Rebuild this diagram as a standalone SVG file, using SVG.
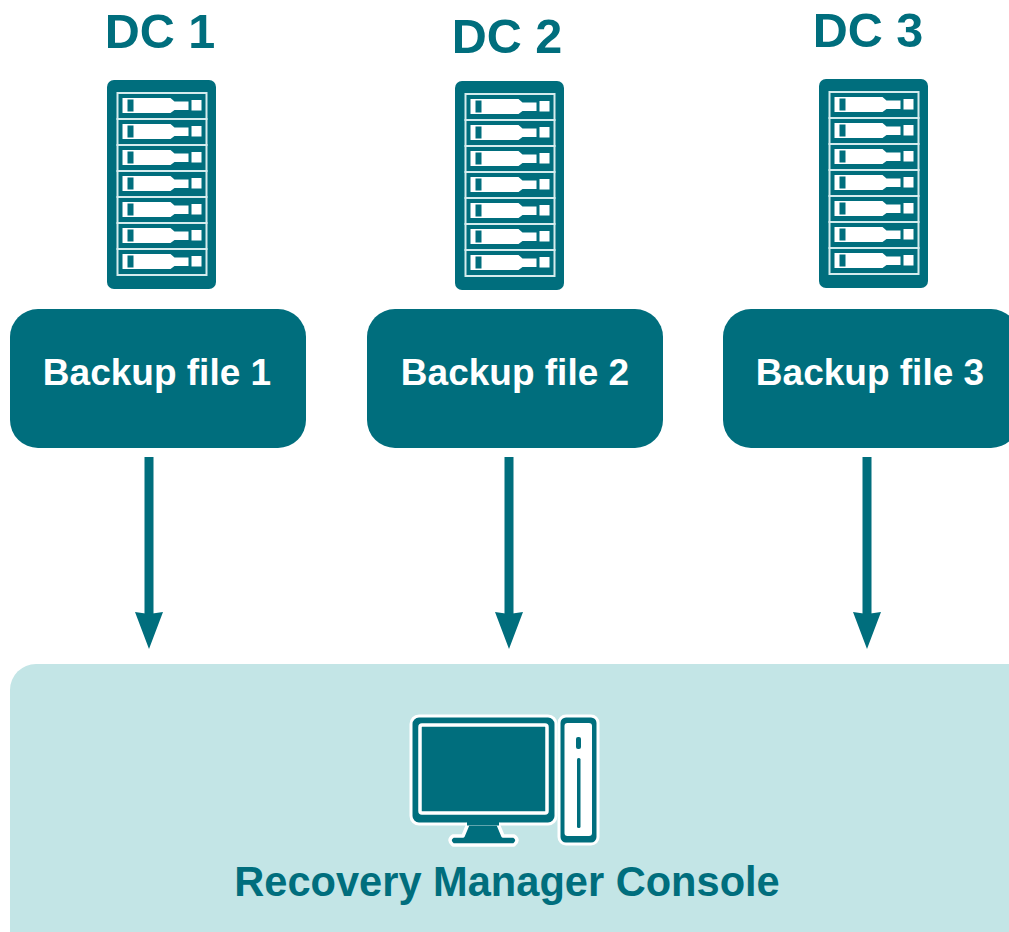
<svg xmlns="http://www.w3.org/2000/svg" width="1009" height="932" viewBox="0 0 1009 932">
<style>
.t{fill:#006e7d}.w{fill:#fff}
text{font-family:"Liberation Sans",Arial,sans-serif;font-weight:700}
.dc{font-size:48.500px;fill:#006e7d;text-anchor:middle}
.b{font-size:37px;fill:#fff;text-anchor:middle}
.box{fill:#006e7d}
.c{stroke:#006e7d;stroke-width:9;fill:none;marker-end:url(#a)}
</style>
<defs>
<marker id="a" markerUnits="userSpaceOnUse" markerWidth="40" markerHeight="30" refX="8" refY="15" orient="auto" viewBox="0 0 40 30"><path d="M0 1L2 15L0 29L37 15Z" fill="#006e7d"/></marker>
<g id="row">
<rect x="0" y="0" width="89" height="26" fill="none" stroke="#d5ecee" stroke-width="2"/>
<path class="w" d="M5 5H53L57 8.500H71V17H57L53 20H5Z"/>
<rect class="t" x="10" y="6.500" width="6" height="12"/>
<rect class="w" x="74" y="7" width="10" height="10.500"/>
</g>
<g id="rack">
<rect class="t" x="0" y="0" width="109" height="209" rx="7"/>
<use href="#row" x="10.500" y="13"/><use href="#row" x="10.500" y="39"/><use href="#row" x="10.500" y="65"/><use href="#row" x="10.500" y="91"/><use href="#row" x="10.500" y="117"/><use href="#row" x="10.500" y="143"/><use href="#row" x="10.500" y="169"/>
</g>
</defs>
<g id="console"><rect x="10" y="664" width="1040" height="300" rx="26" fill="#c3e5e6"/>
<g id="pc">
<rect x="411" y="716" width="145" height="108" rx="8" class="t" stroke="#fff" stroke-width="3"/>
<rect x="420" y="725" width="127" height="88" rx="2" class="t" stroke="#fff" stroke-width="3.500"/>
<path class="t" stroke="#fff" stroke-width="3.500" stroke-linejoin="round" d="M468 824H498L503 836H514Q520 840 514 845H453Q447 840 453 836H463Z"/>
<path class="t" d="M467 821H499V825.500H467Z"/>
<rect x="559" y="716" width="39" height="128" rx="7" class="t" stroke="#fff" stroke-width="3"/>
<rect x="564.500" y="723" width="27.500" height="113" rx="3" fill="#fff"/>
<rect x="576" y="737" width="5" height="12" rx="2" class="t"/>
<rect x="577" y="758" width="3.500" height="70" rx="1.500" class="t"/>
</g>
<text x="507" y="896" font-size="41.600" fill="#006e7d" text-anchor="middle">Recovery Manager Console</text></g>
<g id="connectors">
<line class="c" x1="149" y1="457" x2="149" y2="620"/>
<line class="c" x1="509" y1="457" x2="509" y2="620"/>
<line class="c" x1="867" y1="457" x2="867" y2="620"/>
</g>
<g id="dc1"><text class="dc" x="160" y="48">DC 1</text><use href="#rack" x="107" y="80"/></g>
<g id="dc2"><text class="dc" x="507" y="53">DC 2</text><use href="#rack" x="455" y="81"/></g>
<g id="dc3"><text class="dc" x="868" y="47">DC 3</text><use href="#rack" x="819" y="79"/></g>
<g id="backup1"><rect class="box" x="10" y="309" width="296" height="139" rx="28"/><text class="b" x="157" y="385">Backup file 1</text></g>
<g id="backup2"><rect class="box" x="367" y="309" width="296" height="139" rx="28"/><text class="b" x="515" y="385">Backup file 2</text></g>
<g id="backup3"><rect class="box" x="723" y="309" width="296" height="139" rx="28"/><text class="b" x="870" y="385">Backup file 3</text></g>
</svg>
